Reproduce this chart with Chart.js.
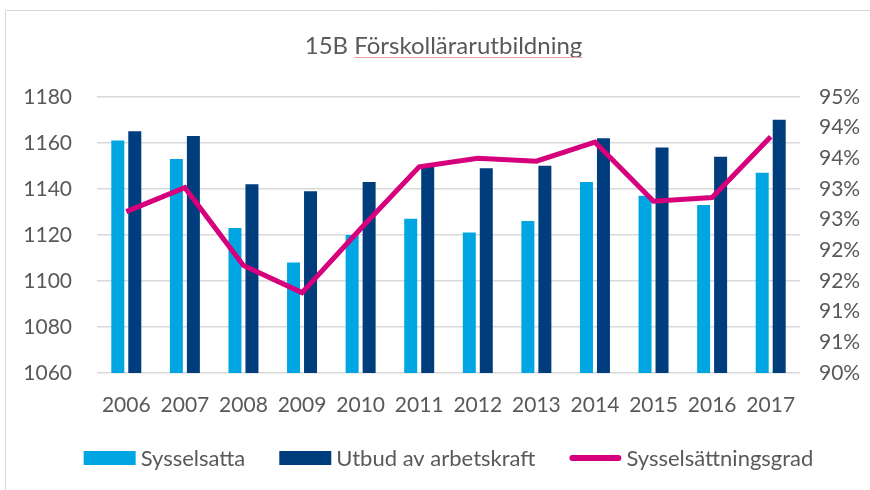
<!DOCTYPE html>
<html>
<head>
<meta charset="utf-8">
<script src="https://cdn.jsdelivr.net/npm/chart.js@4/dist/chart.umd.min.js"></script>
<style>
  html, body { margin: 0; padding: 0; background: #fff; }
  #wrap { width: 870px; height: 490px; }
</style>
</head>
<body>
<div id="wrap"><canvas id="c" width="870" height="490"></canvas></div>
<script>
const titleText = '15B Förskollärarutbildning';
const years = ['2006','2007','2008','2009','2010','2011','2012','2013','2014','2015','2016','2017'];
const sysselsatta = [1161, 1153, 1123, 1108, 1120, 1127, 1121, 1126, 1143, 1137, 1133, 1147];
const utbud = [1165, 1163, 1142, 1139, 1143, 1150, 1149, 1150, 1162, 1158, 1154, 1170];
const grad = [92.63, 93.02, 91.75, 91.31, 92.35, 93.36, 93.50, 93.45, 93.76, 92.80, 92.86, 93.85];
const leftTicks = [1060, 1080, 1100, 1120, 1140, 1160, 1180];
const rightTicks = [90, 90.5, 91, 91.5, 92, 92.5, 93, 93.5, 94, 94.5];
const seriesNames = ['Sysselsatta', 'Utbud av arbetskraft', 'Sysselsättningsgrad'];

const LIGHT = '#00A6E2';
const DARK = '#003D7C';
const MAGENTA = '#D6007C';
const TEXT = '#595959';
const GRID = '#D9D9D9';
const FONT = 'Lato';

const framePlugin = {
  id: 'frame',
  beforeDraw(chart) {
    const ctx = chart.ctx;
    ctx.save();
    ctx.fillStyle = '#fff';
    ctx.fillRect(0, 0, chart.width, chart.height);
    ctx.strokeStyle = GRID;
    ctx.lineWidth = 1;
    ctx.beginPath();
    ctx.moveTo(5.5, chart.height);
    ctx.lineTo(5.5, 10.5);
    ctx.lineTo(chart.width, 10.5);
    ctx.stroke();
    ctx.restore();
  },
  afterDraw(chart) {
    const ctx = chart.ctx;
    ctx.save();
    // spell-check underline under the title word
    const t = chart.titleBlock;
    ctx.font = 'normal 24px ' + FONT;
    const full = ctx.measureText(titleText).width;
    const pre = ctx.measureText('15B ').width;
    const cxTitle = (t.left + t.right) / 2;
    ctx.strokeStyle = '#EFA3AA';
    ctx.lineWidth = 1.2;
    ctx.beginPath();
    ctx.moveTo(cxTitle - full / 2 + pre, 57.5);
    ctx.lineTo(cxTitle + full / 2, 57.5);
    ctx.stroke();

    // legend
    const ds = chart.data.datasets;
    ctx.font = 'normal 22px ' + FONT;
    ctx.textBaseline = 'middle';
    ctx.textAlign = 'left';
    const boxW = 52, gapText = 5, gapItem = 34, cy = 458;
    const widths = ds.map(d => boxW + gapText + ctx.measureText(d.label).width);
    const total = widths.reduce((a, b) => a + b, 0) + gapItem * (ds.length - 1);
    const ca = chart.chartArea;
    let x = (ca.left + ca.right) / 2 - total / 2;
    ds.forEach((d, i) => {
      if (d.type === 'line') {
        ctx.strokeStyle = d.borderColor;
        ctx.lineWidth = 6;
        ctx.lineCap = 'round';
        ctx.beginPath();
        ctx.moveTo(x + 3, cy);
        ctx.lineTo(x + boxW - 3, cy);
        ctx.stroke();
      } else {
        ctx.fillStyle = d.backgroundColor;
        ctx.fillRect(x, cy - 7, boxW, 14);
      }
      ctx.fillStyle = TEXT;
      ctx.fillText(d.label, x + boxW + gapText, cy + 1);
      x += widths[i] + gapItem;
    });
    ctx.restore();
  }
};

new Chart(document.getElementById('c'), {
  type: 'bar',
  data: {
    labels: years,
    datasets: [
      {
        type: 'bar',
        label: seriesNames[0],
        data: sysselsatta,
        backgroundColor: LIGHT,
        yAxisID: 'y',
        categoryPercentage: 0.58,
        barPercentage: 0.765,
        order: 1
      },
      {
        type: 'bar',
        label: seriesNames[1],
        data: utbud,
        backgroundColor: DARK,
        yAxisID: 'y',
        categoryPercentage: 0.58,
        barPercentage: 0.765,
        order: 1
      },
      {
        type: 'line',
        label: seriesNames[2],
        data: grad,
        borderColor: MAGENTA,
        backgroundColor: MAGENTA,
        borderWidth: 5,
        pointRadius: 0,
        pointHoverRadius: 0,
        tension: 0,
        fill: false,
        yAxisID: 'y1',
        order: -1
      }
    ]
  },
  options: {
    responsive: false,
    animation: false,
    devicePixelRatio: 1,
    layout: { padding: { top: 10, left: 17, right: 0, bottom: 52 } },
    plugins: {
      tooltip: { enabled: false },
      legend: { display: false },
      title: {
        display: true,
        text: titleText,
        color: TEXT,
        font: { family: FONT, size: 24, weight: 'normal' },
        padding: { top: 22, bottom: 36 }
      }
    },
    scales: {
      x: {
        grid: { display: false, drawTicks: false },
        border: { display: false },
        ticks: { color: TEXT, font: { family: FONT, size: 21 }, padding: 20, maxRotation: 0, autoSkip: false },
        afterFit(scale) { scale.height = 65; }
      },
      y: {
        position: 'left',
        min: 1060,
        max: 1180,
        grid: { color: GRID, lineWidth: 1.5, drawTicks: false },
        border: { display: false },
        ticks: { color: TEXT, font: { family: FONT, size: 21 }, padding: 25, callback: (v) => String(v) },
        afterBuildTicks(scale) { scale.ticks = leftTicks.map(v => ({ value: v })); },
        afterFit(scale) { scale.width = 80; }
      },
      y1: {
        position: 'right',
        min: 90,
        max: 94.5,
        grid: { display: false, drawTicks: false },
        border: { display: false },
        ticks: {
          color: TEXT,
          font: { family: FONT, size: 21 },
          padding: 19,
          callback: (v) => Math.round(v) + '%'
        },
        afterBuildTicks(scale) { scale.ticks = rightTicks.map(v => ({ value: v })); },
        afterFit(scale) { scale.width = 70; }
      }
    }
  },
  plugins: [framePlugin]
});
</script>
</body>
</html>
